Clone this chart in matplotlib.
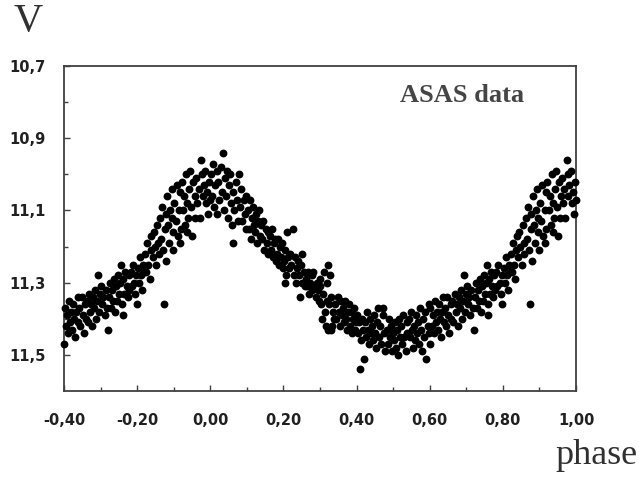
import numpy as np
import matplotlib
matplotlib.use("Agg")
import matplotlib.pyplot as plt
from matplotlib.ticker import FixedLocator

# ASAS light curve, (phase, V), phase 0..1
obs_00_20 = [
    (0.002, 11.00), (0.005, 11.06), (0.008, 10.97), (0.011, 11.09), (0.014, 11.03), (0.017, 11.11), (0.019, 10.99),
    (0.022, 11.02), (0.025, 11.07), (0.028, 10.98), (0.031, 11.05), (0.034, 10.94), (0.037, 11.10), (0.039, 11.01),
    (0.042, 11.06), (0.045, 10.99), (0.048, 11.12), (0.051, 11.03), (0.054, 11.00), (0.057, 11.08), (0.059, 11.14),
    (0.061, 11.05), (0.063, 11.19), (0.066, 11.10), (0.069, 11.02), (0.072, 11.07), (0.076, 11.13), (0.079, 11.00),
    (0.082, 11.09), (0.085, 11.04), (0.088, 11.13), (0.091, 11.07), (0.094, 11.11), (0.097, 11.15), (0.099, 11.06),
    (0.102, 11.10), (0.105, 11.15), (0.108, 11.07), (0.111, 11.18), (0.114, 11.12), (0.117, 11.09), (0.119, 11.14),
    (0.122, 11.16), (0.125, 11.11), (0.128, 11.19), (0.131, 11.13), (0.134, 11.10), (0.137, 11.17), (0.139, 11.14),
    (0.142, 11.18), (0.145, 11.13), (0.148, 11.21), (0.151, 11.15), (0.154, 11.19), (0.157, 11.16), (0.159, 11.22),
    (0.162, 11.17), (0.165, 11.21), (0.168, 11.15), (0.171, 11.23), (0.174, 11.19), (0.177, 11.18), (0.179, 11.24),
    (0.182, 11.22), (0.185, 11.18), (0.188, 11.25), (0.191, 11.20), (0.194, 11.23), (0.197, 11.19), (0.199, 11.26),
]
obs_20_40 = [
    (0.202, 11.24), (0.204, 11.30), (0.205, 11.21), (0.208, 11.28), (0.210, 11.16), (0.213, 11.23), (0.216, 11.26), (0.219, 11.22),
    (0.222, 11.25), (0.226, 11.15), (0.228, 11.28), (0.231, 11.23), (0.234, 11.30), (0.237, 11.26), (0.239, 11.24),
    (0.242, 11.28), (0.245, 11.34), (0.247, 11.25), (0.250, 11.30), (0.252, 11.22), (0.255, 11.27), (0.258, 11.31),
    (0.262, 11.29), (0.265, 11.31), (0.268, 11.27), (0.271, 11.33), (0.274, 11.30), (0.277, 11.28), (0.279, 11.32),
    (0.282, 11.27), (0.285, 11.31), (0.288, 11.34), (0.291, 11.30), (0.294, 11.32), (0.297, 11.35), (0.299, 11.29),
    (0.301, 11.31), (0.304, 11.36), (0.306, 11.40), (0.309, 11.33), (0.311, 11.27), (0.313, 11.38), (0.316, 11.42),
    (0.318, 11.35), (0.319, 11.30),
    (0.321, 11.43), (0.323, 11.25), (0.325, 11.36), (0.327, 11.28), (0.329, 11.43), (0.331, 11.34), (0.334, 11.42),
    (0.336, 11.38), (0.339, 11.40),
    (0.342, 11.36), (0.345, 11.40), (0.348, 11.34), (0.351, 11.38), (0.354, 11.42), (0.357, 11.35), (0.359, 11.39),
    (0.362, 11.37), (0.365, 11.41), (0.368, 11.35), (0.371, 11.40), (0.374, 11.43), (0.377, 11.38), (0.379, 11.36),
    (0.382, 11.42), (0.385, 11.38), (0.388, 11.44), (0.391, 11.40), (0.394, 11.37), (0.397, 11.43), (0.399, 11.41),
]
obs_40_60 = [
    (0.402, 11.39), (0.405, 11.44), (0.408, 11.41), (0.410, 11.54), (0.412, 11.46), (0.415, 11.40), (0.418, 11.43), (0.419, 11.51),
    (0.422, 11.41), (0.425, 11.45), (0.428, 11.38), (0.431, 11.43), (0.434, 11.47), (0.437, 11.40), (0.439, 11.44),
    (0.442, 11.42), (0.445, 11.46), (0.448, 11.39), (0.451, 11.44), (0.454, 11.48), (0.457, 11.41), (0.459, 11.37),
    (0.462, 11.45), (0.465, 11.42), (0.468, 11.47), (0.471, 11.39), (0.473, 11.37), (0.476, 11.44), (0.479, 11.49),
    (0.482, 11.43), (0.485, 11.47), (0.488, 11.40), (0.491, 11.45), (0.494, 11.42), (0.497, 11.49), (0.499, 11.44),
    (0.502, 11.46), (0.505, 11.41), (0.508, 11.48), (0.511, 11.43), (0.514, 11.50), (0.517, 11.40), (0.519, 11.45),
    (0.522, 11.42), (0.525, 11.47), (0.528, 11.39), (0.531, 11.45), (0.534, 11.49), (0.537, 11.41), (0.539, 11.44),
    (0.542, 11.40), (0.545, 11.45), (0.548, 11.38), (0.551, 11.43), (0.554, 11.48), (0.557, 11.42), (0.559, 11.46),
    (0.562, 11.39), (0.565, 11.44), (0.568, 11.41), (0.571, 11.47), (0.574, 11.37), (0.577, 11.43), (0.579, 11.49),
    (0.582, 11.40), (0.585, 11.45), (0.588, 11.38), (0.591, 11.51), (0.594, 11.42), (0.597, 11.36), (0.599, 11.44),
]
obs_60_80 = [
    (0.600, 11.47), (0.602, 11.37), (0.605, 11.42), (0.608, 11.39), (0.611, 11.44), (0.614, 11.35), (0.617, 11.41), (0.619, 11.38),
    (0.622, 11.43), (0.625, 11.36), (0.628, 11.40), (0.631, 11.45), (0.634, 11.38), (0.637, 11.34), (0.639, 11.41),
    (0.642, 11.37), (0.645, 11.42), (0.648, 11.34), (0.651, 11.39), (0.654, 11.44), (0.657, 11.36), (0.659, 11.40),
    (0.662, 11.35), (0.665, 11.41), (0.668, 11.33), (0.671, 11.38), (0.674, 11.36), (0.677, 11.42), (0.679, 11.34),
    (0.682, 11.37), (0.685, 11.32), (0.688, 11.40), (0.691, 11.35), (0.694, 11.28), (0.697, 11.38), (0.699, 11.33),
    (0.702, 11.31), (0.705, 11.36), (0.708, 11.34), (0.711, 11.39), (0.714, 11.32), (0.717, 11.37), (0.721, 11.43),
    (0.723, 11.34), (0.726, 11.30), (0.729, 11.37), (0.732, 11.32), (0.735, 11.35), (0.738, 11.29), (0.739, 11.38),
    (0.742, 11.31), (0.745, 11.35), (0.748, 11.28), (0.751, 11.33), (0.754, 11.30), (0.757, 11.25), (0.759, 11.36), (0.760, 11.39),
    (0.762, 11.29), (0.765, 11.33), (0.768, 11.27), (0.771, 11.31), (0.774, 11.34), (0.777, 11.28), (0.779, 11.32),
    (0.782, 11.27), (0.785, 11.31), (0.788, 11.25), (0.791, 11.30), (0.794, 11.33), (0.797, 11.28), (0.799, 11.36),
]
obs_80_100 = [
    (0.802, 11.26), (0.805, 11.30), (0.808, 11.23), (0.811, 11.28), (0.814, 11.32), (0.817, 11.25), (0.819, 11.27),
    (0.822, 11.22), (0.825, 11.27), (0.828, 11.19), (0.831, 11.25), (0.834, 11.29), (0.837, 11.21), (0.839, 11.17),
    (0.842, 11.23), (0.845, 11.16), (0.848, 11.20), (0.851, 11.25), (0.854, 11.14), (0.857, 11.19), (0.859, 11.22),
    (0.862, 11.12), (0.865, 11.18), (0.868, 11.09), (0.871, 11.21), (0.874, 11.36), (0.876, 11.15), (0.878, 11.11), (0.879, 11.24),
    (0.882, 11.06), (0.885, 11.14), (0.888, 11.19), (0.891, 11.10), (0.894, 11.04), (0.896, 11.12), (0.897, 11.16), (0.899, 11.21),
    (0.902, 11.08), (0.905, 11.13), (0.908, 11.03), (0.911, 11.17), (0.914, 11.10), (0.916, 11.19), (0.917, 11.05), (0.919, 11.15),
    (0.922, 11.02), (0.925, 11.10), (0.928, 11.06), (0.931, 11.14), (0.934, 11.00), (0.936, 11.16), (0.937, 11.08), (0.939, 11.12),
    (0.942, 11.04), (0.945, 10.99), (0.948, 11.09), (0.951, 11.17), (0.954, 11.02), (0.957, 11.12), (0.959, 11.06),
    (0.962, 11.01), (0.965, 11.08), (0.968, 11.04), (0.971, 11.12), (0.975, 10.96), (0.977, 11.00), (0.979, 11.06),
    (0.982, 11.03), (0.985, 10.99), (0.988, 11.08), (0.991, 11.05), (0.994, 11.11), (0.997, 11.02), (0.999, 11.07),
]

x_ticks = [-0.4, -0.2, 0.0, 0.2, 0.4, 0.6, 0.8, 1.0]
y_ticks = [10.7, 10.9, 11.1, 11.3, 11.5]

obs = np.array(obs_00_20 + obs_20_40 + obs_40_60 + obs_60_80 + obs_80_100)
ph, vmag = obs[:, 0], obs[:, 1]
# phases 0.6..1 are shown again one cycle earlier
wrap = ph >= 0.6
ph_all = np.concatenate([ph, ph[wrap] - 1.0])
v_all = np.concatenate([vmag, vmag[wrap]])

fig = plt.figure(figsize=(6.39, 4.78), dpi=100)
ax = fig.add_axes([64 / 639, 1 - 391 / 478, 512 / 639, 325 / 478])

ax.scatter(ph_all, v_all, s=32, c="black", marker="o", linewidths=0, clip_on=False, zorder=3)

ax.set_xlim(-0.4, 1.0)
ax.set_ylim(11.6, 10.7)

grey = "#404040"
for sp in ax.spines.values():
    sp.set_color(grey)
    sp.set_linewidth(1.3)

ax.xaxis.set_major_locator(FixedLocator(x_ticks))
ax.xaxis.set_minor_locator(FixedLocator([-0.3, -0.1, 0.1, 0.3, 0.5, 0.7, 0.9]))
ax.yaxis.set_major_locator(FixedLocator(y_ticks))
ax.yaxis.set_minor_locator(FixedLocator([10.8, 11.0, 11.2, 11.4]))
ax.set_xticklabels([f"{t:.2f}".replace(".", ",") for t in x_ticks])
ax.set_yticklabels([f"{t:.1f}".replace(".", ",") for t in y_ticks])

ax.tick_params(which="both", direction="in", color=grey, width=1, labelcolor="#202020")
ax.tick_params(which="major", length=4)
ax.tick_params(which="minor", length=3)
ax.tick_params(axis="x", which="both", pad=16, top=False)
ax.tick_params(axis="y", which="both", pad=13, right=False)
for lab in ax.get_xticklabels() + ax.get_yticklabels():
    lab.set_fontweight("bold")
    lab.set_fontsize(10.5)
    lab.set_family("DejaVu Sans")

ax.text(0.777, 0.908, "ASAS data", transform=ax.transAxes, ha="center", va="center",
        fontsize=19, family="Liberation Serif", fontweight="bold", color="#454545")

fig.text(28 / 639, 1 - 22 / 478, "V", ha="center", va="center",
         fontsize=29, family="Liberation Serif", color="#303030")
fig.text(637 / 639, 1 - 455 / 478, "phase", ha="right", va="center",
         fontsize=26, family="Liberation Serif", color="#303030")

fig.savefig("out.png", dpi=100)
